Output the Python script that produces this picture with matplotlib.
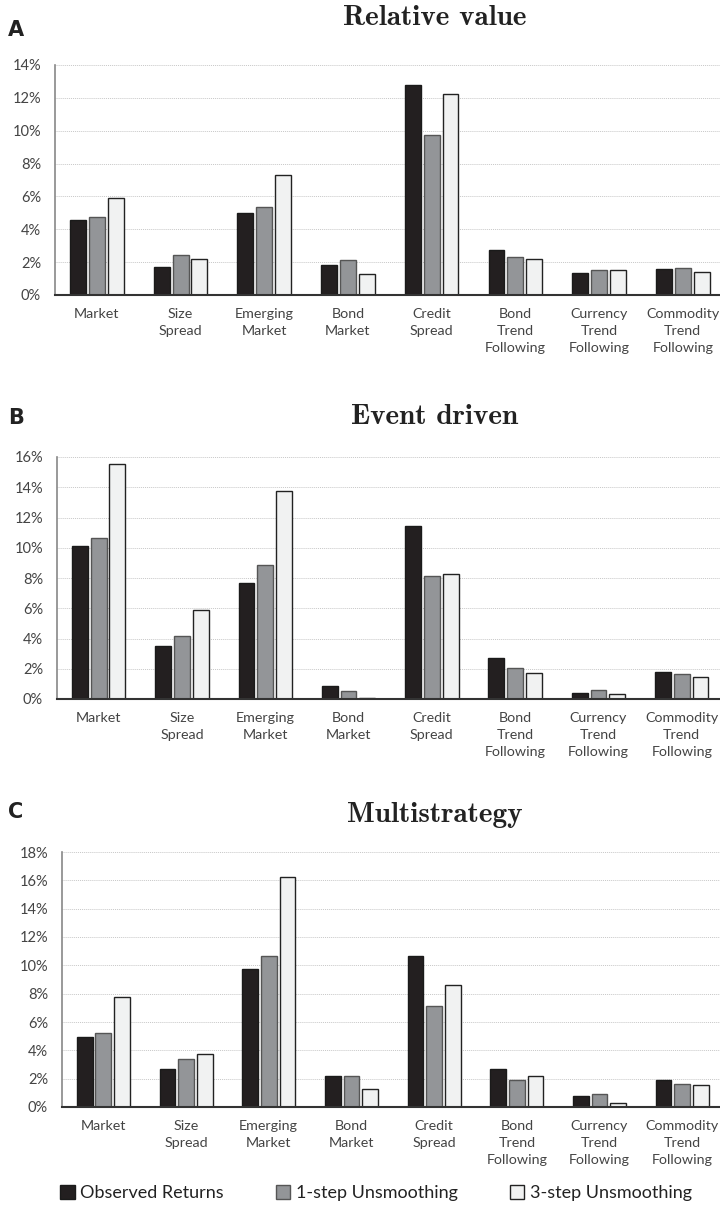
import matplotlib
matplotlib.use('Agg')
import matplotlib.pyplot as plt
import numpy as np
from matplotlib.patches import Patch
from matplotlib.ticker import FuncFormatter, MultipleLocator

BLACK = '#231f20'
GRAY = '#939598'
WHITE = '#f1f2f2'
TICK = '#444444'

plt.rcParams['font.family'] = ['Lato', 'DejaVu Sans']

categories = ['Market', 'Size\nSpread', 'Emerging\nMarket', 'Bond\nMarket', 'Credit\nSpread',
              'Bond\nTrend\nFollowing', 'Currency\nTrend\nFollowing', 'Commodity\nTrend\nFollowing']
series_names = ['Observed Returns', '1-step Unsmoothing', '3-step Unsmoothing']

# values in %
rv_observed = [4.55, 1.73, 5.02, 1.81, 12.78, 2.76, 1.34, 1.61]
rv_step1 = [4.74, 2.42, 5.37, 2.13, 9.71, 2.32, 1.50, 1.67]
rv_step3 = [5.93, 2.20, 7.30, 1.28, 12.26, 2.20, 1.50, 1.38]

ed_observed = [10.09, 3.50, 7.69, 0.84, 11.44, 2.69, 0.40, 1.76]
ed_step1 = [10.64, 4.14, 8.88, 0.51, 8.13, 2.03, 0.57, 1.67]
ed_step3 = [15.54, 5.88, 13.77, 0.04, 8.26, 1.74, 0.31, 1.43]

ms_observed = [4.97, 2.69, 9.73, 2.17, 10.67, 2.69, 0.75, 1.88]
ms_step1 = [5.21, 3.37, 10.65, 2.17, 7.11, 1.93, 0.94, 1.60]
ms_step3 = [7.77, 3.75, 16.23, 1.25, 8.60, 2.17, 0.26, 1.53]

panels = [
    ('A', 'Relative value', [rv_observed, rv_step1, rv_step3], 14),
    ('B', 'Event driven', [ed_observed, ed_step1, ed_step3], 16),
    ('C', 'Multistrategy', [ms_observed, ms_step1, ms_step3], 18),
]

W, H = 720, 1205
fig = plt.figure(figsize=(W / 100, H / 100), dpi=100)
fig.patch.set_facecolor('white')

# pixel boxes: left, top, bottom, category spacing
boxes = [(55, 65, 295, 83.7), (57, 457, 699, 83.3), (62, 852, 1107, 82.7)]
title_y = [18, 417, 815]
letter_y = [30, 418, 812]

colors = [BLACK, GRAY, WHITE]
edges = ['#1a1a1a', '#555555', '#222222']
x = np.arange(len(categories))
bw = 0.19
step = 0.225

for (letter, title, data, ymax), (left, top, bottom, sp), ty, ly in zip(panels, boxes, title_y, letter_y):
    ax = fig.add_axes([left / W, 1 - bottom / H, sp * 8 / W, (bottom - top) / H])
    for i, vals in enumerate(data):
        ax.bar(x + (i - 1) * step, vals, width=bw, color=colors[i],
               edgecolor=edges[i], linewidth=1.0, zorder=3)
    ax.set_xlim(-0.5, 7.5)
    ax.set_ylim(0, ymax)
    ax.yaxis.set_major_locator(MultipleLocator(2))
    ax.yaxis.set_major_formatter(FuncFormatter(lambda v, p: f'{v:.0f}%'))
    ax.grid(axis='y', color='#c8c8c8', linestyle=(0, (1, 1)), linewidth=0.7, zorder=0)
    ax.set_xticks(x)
    ax.set_xticklabels(categories, linespacing=1.55, fontsize=10.3, color=TICK)
    ax.tick_params(axis='x', length=0, pad=9)
    ax.tick_params(axis='y', length=0, pad=10, labelsize=10.5, labelcolor=TICK)
    for s in ['top', 'right']:
        ax.spines[s].set_visible(False)
    ax.spines['left'].set_color('#888888')
    ax.spines['left'].set_linewidth(1.2)
    ax.spines['bottom'].set_color('#333333')
    ax.spines['bottom'].set_linewidth(1.5)
    ax.spines['bottom'].set_zorder(4)
    fig.text(435 / W, 1 - ty / H, title, family='cmb10', fontsize=21,
             ha='center', va='center', color='#222222')
    fig.text(8 / W, 1 - ly / H, letter, family='DejaVu Sans', fontweight='bold',
             fontsize=15, ha='left', va='center', color='#222222')

handles = [Patch(facecolor=c, edgecolor=e, linewidth=1.0) for c, e in zip(colors, edges)]
fig.legend(handles, series_names, loc='center', bbox_to_anchor=(376 / W, 1 - 1193 / H),
           ncol=3, frameon=False, fontsize=13, handlelength=0.8, handleheight=0.8,
           handletextpad=0.3, columnspacing=2.9, labelcolor='#222222')

fig.savefig('out.png', dpi=100, facecolor='white')
